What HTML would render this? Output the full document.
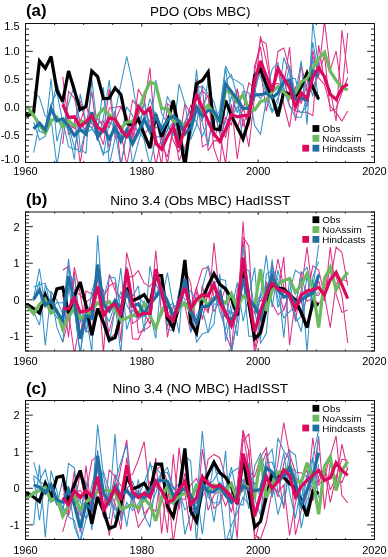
<!DOCTYPE html>
<html><head><meta charset="utf-8"><style>html,body{margin:0;padding:0;background:#fff;}svg{display:block;}text{-webkit-font-smoothing:antialiased;}</style></head>
<body><svg width="388" height="557" viewBox="0 0 388 557" font-family='"Liberation Sans", sans-serif' fill="#000">
<rect width="388" height="557" fill="#fff"/>
<clipPath id="clipa"><rect x="25.50" y="23.50" width="349.00" height="139.00"/></clipPath>
<g clip-path="url(#clipa)">
<polyline points="62.73,76.66 68.54,124.11 74.36,128.41 80.18,119.97 85.99,132.17 91.81,119.11 97.63,129.00 103.44,144.64 109.26,107.88 115.08,107.24 120.89,106.43 126.71,115.82 132.53,137.06 138.34,114.67 144.16,134.92 149.98,126.61 155.79,165.50 161.61,136.22 167.43,164.34 173.24,126.48 179.06,135.41 184.88,135.73 190.69,119.84 196.51,79.36 202.33,146.95 208.14,143.30 213.96,109.42 219.78,133.18 225.59,163.98 231.41,104.29 237.23,159.01 243.04,117.53 248.86,146.95 254.68,95.84 260.49,36.19 266.31,60.94 272.13,90.69 277.94,66.78 283.76,104.68 289.58,127.25 295.39,86.48 301.21,103.71 307.03,83.83 312.84,55.91 318.66,73.76 324.48,21.00 330.29,69.94 336.11,51.03 341.93,92.36 347.74,33.00" stroke="#de2f84" stroke-width="1.05" fill="none" stroke-linejoin="miter" stroke-miterlimit="3"/>
<polyline points="62.73,94.65 68.54,134.87 74.36,122.70 80.18,100.81 85.99,123.47 91.81,127.80 97.63,118.34 103.44,125.81 109.26,127.39 115.08,110.78 120.89,165.50 126.71,133.74 132.53,100.24 138.34,107.57 144.16,114.86 149.98,109.54 155.79,115.86 161.61,145.52 167.43,157.00 173.24,127.97 179.06,160.68 184.88,146.61 190.69,134.05 196.51,86.64 202.33,87.00 208.14,150.74 213.96,140.63 219.78,141.17 225.59,117.66 231.41,124.92 237.23,89.82 243.04,111.10 248.86,82.84 254.68,88.44 260.49,68.88 266.31,111.06 272.13,83.98 277.94,83.47 283.76,85.90 289.58,46.96 295.39,120.80 301.21,91.60 307.03,106.00 312.84,50.42 318.66,77.81 324.48,84.59 330.29,106.34 336.11,112.65 341.93,121.00 347.74,111.00" stroke="#de2f84" stroke-width="1.05" fill="none" stroke-linejoin="miter" stroke-miterlimit="3"/>
<polyline points="62.73,102.39 68.54,119.11 74.36,118.00 80.18,163.24 85.99,126.64 91.81,91.61 97.63,138.06 103.44,132.28 109.26,89.08 115.08,137.94 120.89,131.24 126.71,165.50 132.53,133.07 138.34,89.07 144.16,100.04 149.98,128.96 155.79,134.51 161.61,165.50 167.43,103.53 173.24,108.94 179.06,142.43 184.88,103.47 190.69,114.09 196.51,98.49 202.33,90.52 208.14,96.40 213.96,148.21 219.78,165.50 225.59,99.60 231.41,115.89 237.23,88.49 243.04,126.38 248.86,107.59 254.68,71.39 260.49,40.00 266.31,43.72 272.13,94.35 277.94,51.43 283.76,47.96 289.58,69.44 295.39,110.97 301.21,64.07 307.03,91.94 312.84,85.94 318.66,75.26 324.48,54.90 330.29,110.94 336.11,108.93 341.93,92.60 347.74,77.54" stroke="#de2f84" stroke-width="1.05" fill="none" stroke-linejoin="miter" stroke-miterlimit="3"/>
<polyline points="62.73,143.90 68.54,91.51 74.36,98.09 80.18,121.98 85.99,104.92 91.81,124.28 97.63,123.80 103.44,121.27 109.26,147.65 115.08,120.84 120.89,106.99 126.71,119.29 132.53,141.63 138.34,115.10 144.16,104.58 149.98,67.69 155.79,144.00 161.61,143.65 167.43,121.54 173.24,140.60 179.06,152.28 184.88,124.58 190.69,105.21 196.51,112.70 202.33,105.54 208.14,95.16 213.96,136.95 219.78,125.70 225.59,137.16 231.41,112.91 237.23,129.88 243.04,107.79 248.86,125.42 254.68,65.54 260.49,46.63 266.31,88.27 272.13,95.38 277.94,72.32 283.76,75.46 289.58,106.35 295.39,110.95 301.21,112.22 307.03,112.23 312.84,115.72 318.66,45.17 324.48,81.62 330.29,90.37 336.11,121.00 341.93,30.02 347.74,73.80" stroke="#de2f84" stroke-width="1.05" fill="none" stroke-linejoin="miter" stroke-miterlimit="3"/>
<polyline points="33.64,112.42 39.46,131.26 45.28,133.74 51.09,104.13 56.91,92.57 62.73,121.88 68.54,130.14 74.36,159.48 80.18,93.98 85.99,122.21 91.81,127.73 97.63,137.26 103.44,153.21 109.26,150.52 115.08,112.68 120.89,84.00 126.71,56.40 132.53,83.00 138.34,121.51 144.16,111.21 149.98,122.03 155.79,128.06 161.61,125.24 167.43,96.81 173.24,106.97 179.06,123.20 184.88,158.64 190.69,125.51 196.51,69.59 202.33,121.10 208.14,78.74 213.96,112.78 219.78,117.24 225.59,81.06 231.41,74.69 237.23,96.85 243.04,142.22 248.86,115.41 254.68,92.07 260.49,69.26 266.31,89.93 272.13,110.76 277.94,97.95 283.76,83.81 289.58,77.76 295.39,78.62 301.21,101.18 307.03,74.04 312.84,96.52 318.66,61.42" stroke="#3592c8" stroke-width="1.05" fill="none" stroke-linejoin="miter" stroke-miterlimit="3"/>
<polyline points="33.64,152.54 39.46,123.38 45.28,132.85 51.09,78.60 56.91,141.46 62.73,120.66 68.54,146.63 74.36,149.53 80.18,122.48 85.99,132.98 91.81,129.02 97.63,137.13 103.44,155.48 109.26,121.97 115.08,126.46 120.89,135.49 126.71,116.61 132.53,164.65 138.34,141.82 144.16,122.55 149.98,98.72 155.79,116.68 161.61,144.88 167.43,129.85 173.24,121.75 179.06,130.78 184.88,151.93 190.69,135.78 196.51,111.02 202.33,122.57 208.14,145.80 213.96,109.50 219.78,133.62 225.59,122.17 231.41,96.18 237.23,112.75 243.04,91.26 248.86,92.58 254.68,125.48 260.49,134.34 266.31,99.70 272.13,112.65 277.94,102.57 283.76,57.47 289.58,73.24 295.39,107.60 301.21,112.78 307.03,105.99 312.84,58.46 318.66,100.48" stroke="#3592c8" stroke-width="1.05" fill="none" stroke-linejoin="miter" stroke-miterlimit="3"/>
<polyline points="33.64,122.15 39.46,139.98 45.28,136.20 51.09,108.77 56.91,82.88 62.73,104.23 68.54,125.07 74.36,147.51 80.18,152.03 85.99,128.27 91.81,112.94 97.63,140.92 103.44,117.69 109.26,80.13 115.08,131.75 120.89,165.50 126.71,131.76 132.53,141.01 138.34,129.33 144.16,139.77 149.98,165.50 155.79,137.97 161.61,134.86 167.43,130.82 173.24,99.52 179.06,147.75 184.88,121.23 190.69,111.14 196.51,122.31 202.33,136.28 208.14,122.29 213.96,122.71 219.78,109.93 225.59,66.04 231.41,78.22 237.23,81.15 243.04,85.22 248.86,109.39 254.68,90.92 260.49,98.78 266.31,88.99 272.13,99.33 277.94,108.90 283.76,94.05 289.58,65.56 295.39,94.86 301.21,60.71 307.03,124.77 312.84,22.00 318.66,68.27" stroke="#3592c8" stroke-width="1.05" fill="none" stroke-linejoin="miter" stroke-miterlimit="3"/>
<polyline points="33.64,92.00 39.46,97.38 45.28,116.41 51.09,119.24 56.91,165.50 62.73,128.43 68.54,103.76 74.36,85.08 80.18,149.11 85.99,153.34 91.81,79.11 97.63,131.09 103.44,87.22 109.26,165.50 115.08,138.31 120.89,136.85 126.71,106.99 132.53,115.34 138.34,135.34 144.16,102.47 149.98,132.55 155.79,80.09 161.61,113.42 167.43,123.72 173.24,135.76 179.06,83.86 184.88,103.40 190.69,139.57 196.51,125.09 202.33,85.65 208.14,93.97 213.96,101.81 219.78,123.21 225.59,66.73 231.41,117.31 237.23,106.84 243.04,116.10 248.86,114.62 254.68,71.53 260.49,76.42 266.31,93.38 272.13,69.27 277.94,62.58 283.76,90.67 289.58,105.83 295.39,117.32 301.21,117.33 307.03,96.39 312.84,42.13 318.66,73.84" stroke="#3592c8" stroke-width="1.05" fill="none" stroke-linejoin="miter" stroke-miterlimit="3"/>
<polyline points="22.01,109.00 27.83,115.80 33.64,112.30 39.46,61.00 45.28,68.20 51.09,56.50 56.91,90.50 62.73,101.50 68.54,71.00 74.36,90.00 80.18,109.60 85.99,106.50 91.81,71.00 97.63,76.50 103.44,98.60 109.26,98.30 115.08,88.00 120.89,94.40 126.71,123.00 132.53,125.40 138.34,119.20 144.16,134.20 149.98,148.20 155.79,114.50 161.61,136.60 167.43,122.60 173.24,100.60 179.06,130.00 184.88,166.00 190.69,121.00 196.51,83.80 202.33,80.50 208.14,72.00 213.96,128.80 219.78,129.70 225.59,100.60 231.41,115.70 237.23,127.30 243.04,138.90 248.86,120.30 254.68,76.00 260.49,69.40 266.31,84.50 272.13,96.50 277.94,116.40 283.76,92.00 289.58,94.00 295.39,96.50 301.21,87.00 307.03,73.00 312.84,87.50 318.66,99.20" stroke="#000000" stroke-width="3.20" fill="none" stroke-linejoin="miter" stroke-miterlimit="3"/>
<polyline points="22.01,110.00 27.83,107.50 33.64,115.60 39.46,124.50 45.28,133.00 51.09,121.00 56.91,117.00 62.73,127.00 68.54,120.50 74.36,126.00 80.18,122.30 85.99,120.50 91.81,121.00 97.63,115.70 103.44,108.70 109.26,115.00 115.08,120.30 120.89,128.40 126.71,122.20 132.53,121.50 138.34,112.20 144.16,94.80 149.98,82.00 155.79,84.40 161.61,108.70 167.43,108.50 173.24,121.40 179.06,120.60 184.88,126.00 190.69,121.00 196.51,109.00 202.33,111.30 208.14,105.20 213.96,113.70 219.78,121.40 225.59,90.20 231.41,93.60 237.23,101.80 243.04,94.80 248.86,110.00 254.68,110.00 260.49,101.50 266.31,100.00 272.13,92.00 277.94,86.60 283.76,92.00 289.58,98.00 295.39,93.00 301.21,82.00 307.03,78.50 312.84,68.50 318.66,59.00 324.48,52.30 330.29,71.50 336.11,80.40 341.93,88.00 347.74,89.80" stroke="#6cb960" stroke-width="3.20" fill="none" stroke-linejoin="miter" stroke-miterlimit="3"/>
<polyline points="33.64,128.80 39.46,123.00 45.28,129.80 51.09,108.60 56.91,120.80 62.73,118.80 68.54,126.40 74.36,135.40 80.18,129.40 85.99,134.20 91.81,112.20 97.63,136.60 103.44,128.40 109.26,138.90 115.08,127.30 120.89,141.20 126.71,130.00 132.53,143.80 138.34,132.00 144.16,119.00 149.98,131.40 155.79,115.70 161.61,129.60 167.43,120.30 173.24,116.00 179.06,121.40 184.88,133.80 190.69,128.00 196.51,107.00 202.33,116.40 208.14,110.20 213.96,111.70 219.78,121.00 225.59,84.00 231.41,91.60 237.23,99.40 243.04,108.70 248.86,108.00 254.68,95.00 260.49,94.70 266.31,93.00 272.13,98.00 277.94,93.00 283.76,81.50 289.58,80.60 295.39,99.60 301.21,98.00 307.03,100.30 312.84,71.20 318.66,76.00" stroke="#1f6fa3" stroke-width="3.20" fill="none" stroke-linejoin="miter" stroke-miterlimit="3"/>
<polyline points="62.73,104.40 68.54,117.40 74.36,116.80 80.18,126.50 85.99,121.80 91.81,115.70 97.63,127.30 103.44,131.00 109.26,118.00 115.08,119.20 120.89,129.60 126.71,136.60 132.53,128.00 138.34,106.60 144.16,113.60 149.98,108.20 155.79,143.50 161.61,149.30 167.43,136.60 173.24,126.00 179.06,147.70 184.88,127.60 190.69,118.30 196.51,94.30 202.33,107.50 208.14,121.40 213.96,133.80 219.78,141.50 225.59,129.60 231.41,114.50 237.23,116.80 243.04,115.70 248.86,115.70 254.68,80.30 260.49,61.00 266.31,76.00 272.13,91.10 277.94,68.50 283.76,78.50 289.58,87.50 295.39,107.30 301.21,92.90 307.03,98.50 312.84,77.00 318.66,68.00 324.48,76.60 330.29,94.40 336.11,99.50 341.93,88.00 347.74,84.20" stroke="#dc0a5f" stroke-width="3.20" fill="none" stroke-linejoin="miter" stroke-miterlimit="3"/>
</g>
<path d="M25.50 162.50L32.80 162.50M374.50 162.50L367.20 162.50M25.50 156.94L29.00 156.94M374.50 156.94L371.00 156.94M25.50 151.38L29.00 151.38M374.50 151.38L371.00 151.38M25.50 145.82L29.00 145.82M374.50 145.82L371.00 145.82M25.50 140.26L29.00 140.26M374.50 140.26L371.00 140.26M25.50 134.70L32.80 134.70M374.50 134.70L367.20 134.70M25.50 129.14L29.00 129.14M374.50 129.14L371.00 129.14M25.50 123.58L29.00 123.58M374.50 123.58L371.00 123.58M25.50 118.02L29.00 118.02M374.50 118.02L371.00 118.02M25.50 112.46L29.00 112.46M374.50 112.46L371.00 112.46M25.50 106.90L32.80 106.90M374.50 106.90L367.20 106.90M25.50 101.34L29.00 101.34M374.50 101.34L371.00 101.34M25.50 95.78L29.00 95.78M374.50 95.78L371.00 95.78M25.50 90.22L29.00 90.22M374.50 90.22L371.00 90.22M25.50 84.66L29.00 84.66M374.50 84.66L371.00 84.66M25.50 79.10L32.80 79.10M374.50 79.10L367.20 79.10M25.50 73.54L29.00 73.54M374.50 73.54L371.00 73.54M25.50 67.98L29.00 67.98M374.50 67.98L371.00 67.98M25.50 62.42L29.00 62.42M374.50 62.42L371.00 62.42M25.50 56.86L29.00 56.86M374.50 56.86L371.00 56.86M25.50 51.30L32.80 51.30M374.50 51.30L367.20 51.30M25.50 45.74L29.00 45.74M374.50 45.74L371.00 45.74M25.50 40.18L29.00 40.18M374.50 40.18L371.00 40.18M25.50 34.62L29.00 34.62M374.50 34.62L371.00 34.62M25.50 29.06L29.00 29.06M374.50 29.06L371.00 29.06M25.50 23.50L32.80 23.50M374.50 23.50L367.20 23.50M25.50 162.50L25.50 159.50M25.50 23.50L25.50 26.50M54.58 162.50L54.58 161.00M54.58 23.50L54.58 25.00M83.67 162.50L83.67 161.00M83.67 23.50L83.67 25.00M112.75 162.50L112.75 161.00M112.75 23.50L112.75 25.00M141.83 162.50L141.83 159.50M141.83 23.50L141.83 26.50M170.92 162.50L170.92 161.00M170.92 23.50L170.92 25.00M200.00 162.50L200.00 161.00M200.00 23.50L200.00 25.00M229.08 162.50L229.08 161.00M229.08 23.50L229.08 25.00M258.17 162.50L258.17 159.50M258.17 23.50L258.17 26.50M287.25 162.50L287.25 161.00M287.25 23.50L287.25 25.00M316.33 162.50L316.33 161.00M316.33 23.50L316.33 25.00M345.42 162.50L345.42 161.00M345.42 23.50L345.42 25.00M374.50 162.50L374.50 159.50M374.50 23.50L374.50 26.50" stroke="#222" stroke-width="1" fill="none"/>
<rect x="25.50" y="23.50" width="349.00" height="139.00" stroke="#111" stroke-width="1" fill="none"/>
<clipPath id="clipb"><rect x="25.50" y="212.00" width="349.00" height="139.00"/></clipPath>
<g clip-path="url(#clipb)">
<polyline points="62.73,327.67 68.54,312.29 74.36,354.00 80.18,321.34 85.99,319.31 91.81,311.16 97.63,291.11 103.44,297.48 109.26,285.85 115.08,282.63 120.89,341.73 126.71,252.63 132.53,277.05 138.34,270.70 144.16,283.11 149.98,286.62 155.79,277.55 161.61,274.56 167.43,337.28 173.24,306.30 179.06,308.45 184.88,288.63 190.69,311.19 196.51,286.94 202.33,319.70 208.14,291.91 213.96,311.38 219.78,300.40 225.59,315.84 231.41,293.65 237.23,316.03 243.04,241.00 248.86,298.03 254.68,354.00 260.49,328.40 266.31,284.96 272.13,302.72 277.94,314.67 283.76,309.87 289.58,291.05 295.39,308.90 301.21,301.16 307.03,327.25 312.84,299.72 318.66,280.96 324.48,300.98 330.29,247.00 336.11,294.34 341.93,312.37 347.74,310.07" stroke="#de2f84" stroke-width="1.05" fill="none" stroke-linejoin="miter" stroke-miterlimit="3"/>
<polyline points="62.73,294.12 68.54,337.24 74.36,271.84 80.18,338.58 85.99,291.01 91.81,293.92 97.63,290.33 103.44,289.75 109.26,338.79 115.08,333.96 120.89,307.13 126.71,276.97 132.53,276.58 138.34,332.74 144.16,330.08 149.98,326.40 155.79,271.02 161.61,287.61 167.43,325.90 173.24,318.51 179.06,293.60 184.88,268.60 190.69,283.13 196.51,330.62 202.33,285.28 208.14,312.86 213.96,242.54 219.78,298.52 225.59,316.63 231.41,311.34 237.23,316.47 243.04,237.14 248.86,246.00 254.68,349.20 260.49,318.85 266.31,282.18 272.13,291.21 277.94,258.98 283.76,287.02 289.58,299.26 295.39,319.80 301.21,290.48 307.03,247.00 312.84,295.43 318.66,295.34 324.48,285.24 330.29,281.26 336.11,247.00 341.93,252.58 347.74,285.31" stroke="#de2f84" stroke-width="1.05" fill="none" stroke-linejoin="miter" stroke-miterlimit="3"/>
<polyline points="62.73,342.36 68.54,318.67 74.36,266.99 80.18,293.28 85.99,331.37 91.81,331.56 97.63,286.72 103.44,322.02 109.26,331.06 115.08,308.94 120.89,315.29 126.71,266.95 132.53,323.68 138.34,319.62 144.16,313.45 149.98,323.74 155.79,277.72 161.61,291.82 167.43,299.31 173.24,330.06 179.06,293.11 184.88,305.87 190.69,332.20 196.51,291.78 202.33,304.76 208.14,312.31 213.96,286.00 219.78,302.74 225.59,333.66 231.41,349.20 237.23,290.75 243.04,269.99 248.86,308.25 254.68,301.05 260.49,296.48 266.31,311.01 272.13,274.94 277.94,289.59 283.76,310.35 289.58,292.20 295.39,307.36 301.21,271.33 307.03,301.29 312.84,298.62 318.66,303.33 324.48,297.98 330.29,266.55 336.11,276.58 341.93,295.53 347.74,343.00" stroke="#de2f84" stroke-width="1.05" fill="none" stroke-linejoin="miter" stroke-miterlimit="3"/>
<polyline points="62.73,270.24 68.54,266.20 74.36,290.45 80.18,295.20 85.99,302.31 91.81,297.76 97.63,278.24 103.44,353.15 109.26,274.30 115.08,290.48 120.89,298.25 126.71,280.25 132.53,338.68 138.34,339.34 144.16,326.56 149.98,316.43 155.79,250.51 161.61,315.61 167.43,299.91 173.24,325.92 179.06,311.65 184.88,288.10 190.69,307.88 196.51,288.25 202.33,269.06 208.14,266.92 213.96,297.28 219.78,305.13 225.59,287.07 231.41,349.81 237.23,320.75 243.04,221.51 248.86,304.91 254.68,313.67 260.49,300.28 266.31,300.65 272.13,263.53 277.94,292.76 283.76,256.76 289.58,345.00 295.39,298.74 301.21,316.63 307.03,296.45 312.84,265.83 318.66,269.97 324.48,295.40 330.29,327.70 336.11,283.77 341.93,279.11 347.74,281.53" stroke="#de2f84" stroke-width="1.05" fill="none" stroke-linejoin="miter" stroke-miterlimit="3"/>
<polyline points="33.64,311.74 39.46,325.13 45.28,285.49 51.09,294.13 56.91,327.39 62.73,342.25 68.54,290.20 74.36,275.79 80.18,322.24 85.99,306.89 91.81,320.41 97.63,274.80 103.44,305.00 109.26,343.28 115.08,309.25 120.89,291.89 126.71,304.78 132.53,315.49 138.34,317.97 144.16,300.61 149.98,318.91 155.79,283.54 161.61,296.90 167.43,298.20 173.24,322.09 179.06,290.75 184.88,299.62 190.69,300.54 196.51,342.06 202.33,333.87 208.14,331.80 213.96,324.09 219.78,273.70 225.59,341.38 231.41,310.64 237.23,335.99 243.04,277.08 248.86,336.18 254.68,336.24 260.49,292.90 266.31,306.49 272.13,259.53 277.94,307.61 283.76,291.96 289.58,291.51 295.39,270.05 301.21,274.54 307.03,267.32 312.84,288.56 318.66,245.00" stroke="#3592c8" stroke-width="1.05" fill="none" stroke-linejoin="miter" stroke-miterlimit="3"/>
<polyline points="33.64,300.98 39.46,281.21 45.28,345.45 51.09,291.52 56.91,300.26 62.73,314.17 68.54,258.74 74.36,308.40 80.18,354.00 85.99,306.69 91.81,308.30 97.63,276.07 103.44,298.10 109.26,276.91 115.08,277.97 120.89,308.65 126.71,267.75 132.53,296.87 138.34,285.80 144.16,332.22 149.98,266.30 155.79,294.87 161.61,282.75 167.43,306.56 173.24,303.05 179.06,333.50 184.88,260.87 190.69,332.57 196.51,314.43 202.33,308.88 208.14,333.10 213.96,303.72 219.78,305.36 225.59,310.95 231.41,311.20 237.23,282.35 243.04,321.26 248.86,295.88 254.68,267.35 260.49,343.60 266.31,333.35 272.13,267.61 277.94,279.66 283.76,337.60 289.58,278.04 295.39,321.26 301.21,316.80 307.03,275.79 312.84,307.49 318.66,273.24" stroke="#3592c8" stroke-width="1.05" fill="none" stroke-linejoin="miter" stroke-miterlimit="3"/>
<polyline points="33.64,297.77 39.46,268.72 45.28,306.77 51.09,307.41 56.91,317.79 62.73,321.38 68.54,268.09 74.36,308.37 80.18,354.00 85.99,316.26 91.81,351.35 97.63,235.36 103.44,311.80 109.26,321.48 115.08,303.90 120.89,354.00 126.71,267.38 132.53,302.81 138.34,295.92 144.16,304.00 149.98,317.98 155.79,271.21 161.61,299.76 167.43,272.69 173.24,306.37 179.06,304.17 184.88,290.10 190.69,291.08 196.51,300.12 202.33,294.86 208.14,294.85 213.96,283.54 219.78,279.02 225.59,280.50 231.41,354.00 237.23,318.43 243.04,246.84 248.86,295.03 254.68,309.73 260.49,296.49 266.31,255.36 272.13,307.44 277.94,270.03 283.76,294.57 289.58,298.79 295.39,314.78 301.21,331.77 307.03,289.36 312.84,299.05 318.66,291.46" stroke="#3592c8" stroke-width="1.05" fill="none" stroke-linejoin="miter" stroke-miterlimit="3"/>
<polyline points="33.64,287.11 39.46,284.94 45.28,283.09 51.09,308.94 56.91,302.56 62.73,303.00 68.54,287.77 74.36,314.23 80.18,313.07 85.99,332.56 91.81,291.54 97.63,272.17 103.44,301.10 109.26,302.34 115.08,310.88 120.89,267.77 126.71,329.69 132.53,310.03 138.34,316.30 144.16,316.37 149.98,312.81 155.79,338.38 161.61,276.18 167.43,329.35 173.24,330.88 179.06,296.78 184.88,263.41 190.69,319.82 196.51,333.79 202.33,287.58 208.14,265.44 213.96,286.25 219.78,311.52 225.59,329.57 231.41,303.19 237.23,297.62 243.04,268.82 248.86,270.51 254.68,311.88 260.49,338.61 266.31,274.40 272.13,270.22 277.94,298.71 283.76,317.92 289.58,311.66 295.39,305.92 301.21,276.89 307.03,351.53 312.84,276.91 318.66,261.41" stroke="#3592c8" stroke-width="1.05" fill="none" stroke-linejoin="miter" stroke-miterlimit="3"/>
<polyline points="22.01,303.70 27.83,304.80 33.64,308.50 39.46,313.00 45.28,294.90 51.09,309.10 56.91,288.90 62.73,287.50 68.54,313.10 74.36,295.90 80.18,282.00 85.99,305.20 91.81,335.30 97.63,308.60 103.44,322.60 109.26,340.00 115.08,337.60 120.89,315.60 126.71,287.80 132.53,300.50 138.34,298.20 144.16,294.70 149.98,304.00 155.79,275.70 161.61,275.70 167.43,317.90 173.24,328.40 179.06,304.00 184.88,259.90 190.69,322.60 196.51,333.00 202.33,299.40 208.14,285.40 213.96,273.80 219.78,284.30 225.59,288.90 231.41,298.20 237.23,315.60 243.04,269.20 248.86,304.00 254.68,338.80 260.49,333.00 266.31,308.60 272.13,285.40 277.94,287.80 283.76,288.90 289.58,294.90 295.39,300.00 301.21,312.50 307.03,327.60 312.84,302.50 318.66,305.00" stroke="#000000" stroke-width="3.20" fill="none" stroke-linejoin="miter" stroke-miterlimit="3"/>
<polyline points="22.01,306.40 27.83,307.00 33.64,313.80 39.46,304.40 45.28,299.00 51.09,313.10 56.91,310.40 62.73,329.30 68.54,317.20 74.36,307.50 80.18,317.90 85.99,315.60 91.81,309.80 97.63,302.80 103.44,307.00 109.26,301.70 115.08,309.80 120.89,320.20 126.71,317.90 132.53,315.60 138.34,313.30 144.16,304.00 149.98,315.60 155.79,328.40 161.61,311.00 167.43,301.70 173.24,315.60 179.06,308.60 184.88,302.80 190.69,312.00 196.51,300.50 202.33,298.00 208.14,305.20 213.96,298.00 219.78,299.40 225.59,303.00 231.41,293.60 237.23,308.60 243.04,295.90 248.86,300.50 254.68,306.30 260.49,269.20 266.31,311.00 272.13,290.00 277.94,284.30 283.76,280.80 289.58,278.60 295.39,292.40 301.21,284.90 307.03,273.60 312.84,288.60 318.66,327.60 324.48,278.60 330.29,267.30 336.11,289.90 341.93,279.80 347.74,272.30" stroke="#6cb960" stroke-width="3.20" fill="none" stroke-linejoin="miter" stroke-miterlimit="3"/>
<polyline points="33.64,299.40 39.46,290.00 45.28,305.20 51.09,300.50 56.91,312.00 62.73,320.20 68.54,276.20 74.36,301.70 80.18,338.80 85.99,315.60 91.81,317.90 97.63,264.60 103.44,304.00 109.26,311.00 115.08,300.50 120.89,308.60 126.71,292.40 132.53,306.30 138.34,304.00 144.16,313.30 149.98,304.00 155.79,297.00 161.61,288.90 167.43,301.70 173.24,315.60 179.06,306.30 184.88,278.50 190.69,311.00 196.51,322.60 202.33,306.30 208.14,306.30 213.96,299.40 219.78,292.40 225.59,315.60 231.41,320.20 237.23,308.60 243.04,278.50 248.86,299.40 254.68,306.30 260.49,317.90 266.31,292.40 272.13,276.20 277.94,289.00 283.76,297.00 289.58,295.00 295.39,303.00 301.21,300.00 307.03,296.00 312.84,293.00 318.66,275.00" stroke="#1f6fa3" stroke-width="3.20" fill="none" stroke-linejoin="miter" stroke-miterlimit="3"/>
<polyline points="62.73,308.60 68.54,308.60 74.36,298.20 80.18,312.10 85.99,311.00 91.81,308.60 97.63,286.60 103.44,315.60 109.26,307.50 115.08,304.00 120.89,315.60 126.71,269.20 132.53,304.00 138.34,315.60 144.16,313.30 149.98,313.30 155.79,269.20 161.61,292.40 167.43,315.60 173.24,320.20 179.06,301.70 184.88,287.80 190.69,308.60 196.51,299.40 202.33,294.70 208.14,296.00 213.96,284.30 219.78,301.70 225.59,313.30 231.41,326.00 237.23,311.00 243.04,257.60 248.86,297.00 254.68,331.80 260.49,311.00 266.31,294.70 272.13,283.10 277.94,289.00 283.76,291.00 289.58,294.90 295.39,308.70 301.21,294.90 307.03,291.10 312.84,289.90 318.66,287.40 324.48,294.90 330.29,279.80 336.11,272.30 341.93,284.90 347.74,298.70" stroke="#dc0a5f" stroke-width="3.20" fill="none" stroke-linejoin="miter" stroke-miterlimit="3"/>
</g>
<path d="M25.50 351.00L29.00 351.00M374.50 351.00L371.00 351.00M25.50 347.34L29.00 347.34M374.50 347.34L371.00 347.34M25.50 343.68L29.00 343.68M374.50 343.68L371.00 343.68M25.50 340.03L29.00 340.03M374.50 340.03L371.00 340.03M25.50 336.37L32.80 336.37M374.50 336.37L367.20 336.37M25.50 332.71L29.00 332.71M374.50 332.71L371.00 332.71M25.50 329.05L29.00 329.05M374.50 329.05L371.00 329.05M25.50 325.39L29.00 325.39M374.50 325.39L371.00 325.39M25.50 321.74L29.00 321.74M374.50 321.74L371.00 321.74M25.50 318.08L29.00 318.08M374.50 318.08L371.00 318.08M25.50 314.42L29.00 314.42M374.50 314.42L371.00 314.42M25.50 310.76L29.00 310.76M374.50 310.76L371.00 310.76M25.50 307.11L29.00 307.11M374.50 307.11L371.00 307.11M25.50 303.45L29.00 303.45M374.50 303.45L371.00 303.45M25.50 299.79L32.80 299.79M374.50 299.79L367.20 299.79M25.50 296.13L29.00 296.13M374.50 296.13L371.00 296.13M25.50 292.47L29.00 292.47M374.50 292.47L371.00 292.47M25.50 288.82L29.00 288.82M374.50 288.82L371.00 288.82M25.50 285.16L29.00 285.16M374.50 285.16L371.00 285.16M25.50 281.50L29.00 281.50M374.50 281.50L371.00 281.50M25.50 277.84L29.00 277.84M374.50 277.84L371.00 277.84M25.50 274.18L29.00 274.18M374.50 274.18L371.00 274.18M25.50 270.53L29.00 270.53M374.50 270.53L371.00 270.53M25.50 266.87L29.00 266.87M374.50 266.87L371.00 266.87M25.50 263.21L32.80 263.21M374.50 263.21L367.20 263.21M25.50 259.55L29.00 259.55M374.50 259.55L371.00 259.55M25.50 255.89L29.00 255.89M374.50 255.89L371.00 255.89M25.50 252.24L29.00 252.24M374.50 252.24L371.00 252.24M25.50 248.58L29.00 248.58M374.50 248.58L371.00 248.58M25.50 244.92L29.00 244.92M374.50 244.92L371.00 244.92M25.50 241.26L29.00 241.26M374.50 241.26L371.00 241.26M25.50 237.61L29.00 237.61M374.50 237.61L371.00 237.61M25.50 233.95L29.00 233.95M374.50 233.95L371.00 233.95M25.50 230.29L29.00 230.29M374.50 230.29L371.00 230.29M25.50 226.63L32.80 226.63M374.50 226.63L367.20 226.63M25.50 222.97L29.00 222.97M374.50 222.97L371.00 222.97M25.50 219.32L29.00 219.32M374.50 219.32L371.00 219.32M25.50 215.66L29.00 215.66M374.50 215.66L371.00 215.66M25.50 212.00L29.00 212.00M374.50 212.00L371.00 212.00M25.50 351.00L25.50 348.00M25.50 212.00L25.50 215.00M54.58 351.00L54.58 349.50M54.58 212.00L54.58 213.50M83.67 351.00L83.67 349.50M83.67 212.00L83.67 213.50M112.75 351.00L112.75 349.50M112.75 212.00L112.75 213.50M141.83 351.00L141.83 348.00M141.83 212.00L141.83 215.00M170.92 351.00L170.92 349.50M170.92 212.00L170.92 213.50M200.00 351.00L200.00 349.50M200.00 212.00L200.00 213.50M229.08 351.00L229.08 349.50M229.08 212.00L229.08 213.50M258.17 351.00L258.17 348.00M258.17 212.00L258.17 215.00M287.25 351.00L287.25 349.50M287.25 212.00L287.25 213.50M316.33 351.00L316.33 349.50M316.33 212.00L316.33 213.50M345.42 351.00L345.42 349.50M345.42 212.00L345.42 213.50M374.50 351.00L374.50 348.00M374.50 212.00L374.50 215.00" stroke="#222" stroke-width="1" fill="none"/>
<rect x="25.50" y="212.00" width="349.00" height="139.00" stroke="#111" stroke-width="1" fill="none"/>
<clipPath id="clipc"><rect x="25.50" y="400.50" width="349.00" height="139.00"/></clipPath>
<g clip-path="url(#clipc)">
<polyline points="62.73,531.92 68.54,511.16 74.36,471.06 80.18,532.39 85.99,465.55 91.81,512.82 97.63,496.30 103.44,512.24 109.26,503.70 115.08,474.39 120.89,517.69 126.71,457.58 132.53,495.11 138.34,513.15 144.16,498.91 149.98,481.61 155.79,486.42 161.61,492.12 167.43,532.82 173.24,454.19 179.06,509.91 184.88,472.96 190.69,497.83 196.51,499.12 202.33,488.23 208.14,479.70 213.96,490.83 219.78,487.62 225.59,491.76 231.41,512.39 237.23,485.17 243.04,430.00 248.86,451.32 254.68,534.91 260.49,538.96 266.31,522.51 272.13,490.99 277.94,463.00 283.76,422.60 289.58,454.68 295.39,471.95 301.21,472.93 307.03,477.07 312.84,482.76 318.66,436.33 324.48,509.51 330.29,462.88 336.11,482.65 341.93,444.07 347.74,470.36" stroke="#de2f84" stroke-width="1.05" fill="none" stroke-linejoin="miter" stroke-miterlimit="3"/>
<polyline points="62.73,484.10 68.54,515.72 74.36,494.19 80.18,490.20 85.99,498.44 91.81,505.80 97.63,466.86 103.44,517.55 109.26,490.43 115.08,503.59 120.89,529.56 126.71,476.16 132.53,474.44 138.34,460.02 144.16,441.44 149.98,496.54 155.79,469.96 161.61,465.66 167.43,481.63 173.24,486.41 179.06,498.56 184.88,499.50 190.69,485.09 196.51,478.46 202.33,493.27 208.14,459.03 213.96,454.44 219.78,457.71 225.59,478.05 231.41,500.48 237.23,493.47 243.04,440.65 248.86,434.00 254.68,495.40 260.49,467.53 266.31,452.44 272.13,496.99 277.94,473.07 283.76,508.58 289.58,462.08 295.39,476.89 301.21,484.16 307.03,479.53 312.84,480.27 318.66,485.12 324.48,476.93 330.29,456.02 336.11,436.00 341.93,495.49 347.74,503.05" stroke="#de2f84" stroke-width="1.05" fill="none" stroke-linejoin="miter" stroke-miterlimit="3"/>
<polyline points="62.73,495.05 68.54,490.35 74.36,505.94 80.18,473.42 85.99,504.89 91.81,506.43 97.63,488.39 103.44,492.93 109.26,535.73 115.08,498.83 120.89,466.85 126.71,439.84 132.53,497.96 138.34,490.23 144.16,513.67 149.98,506.82 155.79,511.45 161.61,471.27 167.43,511.82 173.24,515.38 179.06,447.69 184.88,492.63 190.69,530.87 196.51,494.90 202.33,476.51 208.14,510.28 213.96,494.97 219.78,490.70 225.59,505.83 231.41,492.20 237.23,538.75 243.04,431.49 248.86,470.82 254.68,476.65 260.49,457.34 266.31,447.70 272.13,484.68 277.94,492.58 283.76,484.93 289.58,535.44 295.39,503.27 301.21,479.05 307.03,470.12 312.84,500.78 318.66,476.74 324.48,469.09 330.29,502.58 336.11,475.65 341.93,482.51 347.74,467.87" stroke="#de2f84" stroke-width="1.05" fill="none" stroke-linejoin="miter" stroke-miterlimit="3"/>
<polyline points="62.73,479.50 68.54,501.20 74.36,491.55 80.18,494.57 85.99,493.87 91.81,460.89 97.63,455.50 103.44,514.27 109.26,470.01 115.08,476.65 120.89,485.76 126.71,487.07 132.53,499.87 138.34,527.18 144.16,518.00 149.98,505.62 155.79,457.79 161.61,533.69 167.43,482.87 173.24,542.50 179.06,501.94 184.88,460.52 190.69,504.64 196.51,518.10 202.33,449.05 208.14,485.89 213.96,508.58 219.78,503.50 225.59,487.10 231.41,485.51 237.23,491.75 243.04,491.56 248.86,449.20 254.68,542.50 260.49,517.46 266.31,484.40 272.13,480.80 277.94,496.98 283.76,463.10 289.58,449.32 295.39,534.83 301.21,510.59 307.03,494.89 312.84,437.69 318.66,483.22 324.48,466.07 330.29,490.08 336.11,476.63 341.93,459.33 347.74,460.23" stroke="#de2f84" stroke-width="1.05" fill="none" stroke-linejoin="miter" stroke-miterlimit="3"/>
<polyline points="33.64,475.38 39.46,480.87 45.28,469.53 51.09,493.92 56.91,503.51 62.73,508.97 68.54,488.57 74.36,526.61 80.18,542.50 85.99,519.74 91.81,505.45 97.63,424.89 103.44,475.74 109.26,506.00 115.08,434.06 120.89,521.07 126.71,502.41 132.53,510.62 138.34,503.56 144.16,492.28 149.98,508.09 155.79,493.14 161.61,472.15 167.43,501.79 173.24,503.87 179.06,503.98 184.88,456.18 190.69,461.05 196.51,542.50 202.33,473.39 208.14,497.23 213.96,503.04 219.78,502.46 225.59,450.56 231.41,542.50 237.23,503.27 243.04,505.27 248.86,462.57 254.68,498.92 260.49,515.09 266.31,462.94 272.13,462.06 277.94,480.48 283.76,452.80 289.58,492.58 295.39,518.31 301.21,485.40 307.03,511.99 312.84,456.99 318.66,430.00" stroke="#3592c8" stroke-width="1.05" fill="none" stroke-linejoin="miter" stroke-miterlimit="3"/>
<polyline points="33.64,525.30 39.46,464.85 45.28,537.41 51.09,470.49 56.91,491.32 62.73,513.81 68.54,463.56 74.36,467.87 80.18,516.12 85.99,480.46 91.81,530.21 97.63,484.02 103.44,471.67 109.26,490.48 115.08,518.92 120.89,493.96 126.71,526.64 132.53,490.21 138.34,497.06 144.16,500.11 149.98,461.89 155.79,485.19 161.61,471.88 167.43,472.60 173.24,489.23 179.06,484.04 184.88,534.51 190.69,513.98 196.51,516.06 202.33,496.28 208.14,488.23 213.96,522.08 219.78,482.68 225.59,488.94 231.41,467.03 237.23,496.63 243.04,478.79 248.86,508.99 254.68,465.97 260.49,453.58 266.31,475.74 272.13,479.69 277.94,514.66 283.76,493.49 289.58,450.75 295.39,455.02 301.21,499.02 307.03,474.53 312.84,489.90 318.66,436.00" stroke="#3592c8" stroke-width="1.05" fill="none" stroke-linejoin="miter" stroke-miterlimit="3"/>
<polyline points="33.64,462.18 39.46,482.81 45.28,483.55 51.09,485.39 56.91,499.41 62.73,506.62 68.54,516.74 74.36,520.67 80.18,542.50 85.99,499.34 91.81,516.05 97.63,450.02 103.44,508.50 109.26,494.08 115.08,510.01 120.89,504.01 126.71,489.01 132.53,481.66 138.34,496.67 144.16,482.93 149.98,465.41 155.79,468.12 161.61,474.53 167.43,467.52 173.24,487.85 179.06,490.94 184.88,509.82 190.69,503.93 196.51,503.22 202.33,431.00 208.14,495.66 213.96,462.64 219.78,489.42 225.59,542.50 231.41,525.32 237.23,512.58 243.04,496.96 248.86,504.54 254.68,482.29 260.49,497.52 266.31,457.90 272.13,449.16 277.94,492.55 283.76,505.23 289.58,468.44 295.39,470.04 301.21,528.17 307.03,498.59 312.84,497.51 318.66,464.30" stroke="#3592c8" stroke-width="1.05" fill="none" stroke-linejoin="miter" stroke-miterlimit="3"/>
<polyline points="33.64,476.67 39.46,520.29 45.28,481.53 51.09,489.73 56.91,505.62 62.73,479.74 68.54,489.24 74.36,503.28 80.18,500.66 85.99,518.89 91.81,485.27 97.63,464.59 103.44,516.11 109.26,518.58 115.08,481.18 120.89,462.26 126.71,444.68 132.53,508.09 138.34,479.36 144.16,515.25 149.98,527.35 155.79,479.17 161.61,502.41 167.43,483.71 173.24,500.36 179.06,488.41 184.88,452.94 190.69,502.34 196.51,489.17 202.33,534.23 208.14,486.26 213.96,479.62 219.78,469.62 225.59,493.17 231.41,472.41 237.23,468.82 243.04,463.15 248.86,482.00 254.68,515.56 260.49,491.90 266.31,473.35 272.13,497.58 277.94,437.92 283.76,450.89 289.58,459.58 295.39,488.28 301.21,509.52 307.03,476.70 312.84,457.10 318.66,497.62" stroke="#3592c8" stroke-width="1.05" fill="none" stroke-linejoin="miter" stroke-miterlimit="3"/>
<polyline points="22.01,492.20 27.83,493.30 33.64,497.00 39.46,501.50 45.28,483.40 51.09,497.60 56.91,477.40 62.73,476.00 68.54,501.60 74.36,484.40 80.18,470.50 85.99,493.70 91.81,523.80 97.63,497.10 103.44,511.10 109.26,528.50 115.08,526.10 120.89,504.10 126.71,476.30 132.53,489.00 138.34,486.70 144.16,483.20 149.98,492.50 155.79,464.20 161.61,464.20 167.43,506.40 173.24,516.90 179.06,492.50 184.88,448.40 190.69,511.10 196.51,521.50 202.33,487.90 208.14,473.90 213.96,462.30 219.78,472.80 225.59,477.40 231.41,486.70 237.23,504.10 243.04,457.70 248.86,492.50 254.68,527.30 260.49,521.50 266.31,497.10 272.13,473.90 277.94,476.30 283.76,477.40 289.58,483.40 295.39,488.50 301.21,501.00 307.03,516.10 312.84,491.00 318.66,493.50" stroke="#000000" stroke-width="3.20" fill="none" stroke-linejoin="miter" stroke-miterlimit="3"/>
<polyline points="22.01,496.48 27.83,497.65 33.64,493.00 39.46,490.68 45.28,487.20 51.09,501.13 56.91,497.65 62.73,516.21 68.54,505.77 74.36,496.48 80.18,509.25 85.99,502.29 91.81,496.48 97.63,491.84 103.44,490.68 109.26,490.68 115.08,491.84 120.89,509.25 126.71,506.93 132.53,504.61 138.34,508.09 144.16,498.81 149.98,504.61 155.79,520.85 161.61,497.65 167.43,486.04 173.24,502.29 179.06,496.48 184.88,493.00 190.69,499.97 196.51,484.88 202.33,484.88 208.14,491.84 213.96,484.88 219.78,490.68 225.59,490.68 231.41,483.72 237.23,499.97 243.04,484.88 248.86,487.20 254.68,496.48 260.49,458.20 266.31,497.65 272.13,483.72 277.94,472.12 283.76,470.96 289.58,466.58 295.39,480.40 301.21,482.91 307.03,462.81 312.84,477.89 318.66,514.32 324.48,466.58 330.29,456.53 336.11,490.45 341.93,470.35 347.74,461.56" stroke="#6cb960" stroke-width="3.20" fill="none" stroke-linejoin="miter" stroke-miterlimit="3"/>
<polyline points="33.64,484.88 39.46,487.20 45.28,493.00 51.09,484.88 56.91,499.97 62.73,502.29 68.54,489.52 74.36,504.61 80.18,527.81 85.99,504.61 91.81,509.25 97.63,455.88 103.44,493.00 109.26,502.29 115.08,486.04 120.89,495.32 126.71,490.68 132.53,497.65 138.34,494.16 144.16,497.65 149.98,490.68 155.79,481.40 161.61,480.24 167.43,481.40 173.24,495.32 179.06,491.84 184.88,488.36 190.69,495.32 196.51,513.89 202.33,483.72 208.14,491.84 213.96,491.84 219.78,486.04 225.59,495.32 231.41,502.29 237.23,495.32 243.04,486.04 248.86,489.52 254.68,490.68 260.49,489.52 266.31,467.48 272.13,472.12 277.94,481.40 283.76,475.60 289.58,467.84 295.39,482.91 301.21,505.53 307.03,490.45 312.84,475.38 318.66,452.76" stroke="#1f6fa3" stroke-width="3.20" fill="none" stroke-linejoin="miter" stroke-miterlimit="3"/>
<polyline points="62.73,497.65 68.54,504.61 74.36,490.68 80.18,497.65 85.99,490.68 91.81,496.48 97.63,476.76 103.44,509.25 109.26,499.97 115.08,488.36 120.89,499.97 126.71,465.16 132.53,491.84 138.34,497.65 144.16,493.00 149.98,497.65 155.79,481.40 161.61,490.68 167.43,502.29 173.24,499.97 179.06,489.52 184.88,481.40 190.69,504.61 196.51,497.65 202.33,476.76 208.14,483.72 213.96,487.20 219.78,484.88 225.59,490.68 231.41,497.65 237.23,502.29 243.04,453.56 248.86,474.44 254.68,516.21 260.49,495.32 266.31,476.76 272.13,488.36 277.94,481.40 283.76,469.80 289.58,475.38 295.39,496.73 301.21,486.68 307.03,480.40 312.84,475.38 318.66,470.35 324.48,480.40 330.29,477.89 336.11,462.81 341.93,470.35 347.74,475.38" stroke="#dc0a5f" stroke-width="3.20" fill="none" stroke-linejoin="miter" stroke-miterlimit="3"/>
</g>
<path d="M25.50 539.50L29.00 539.50M374.50 539.50L371.00 539.50M25.50 535.84L29.00 535.84M374.50 535.84L371.00 535.84M25.50 532.18L29.00 532.18M374.50 532.18L371.00 532.18M25.50 528.53L29.00 528.53M374.50 528.53L371.00 528.53M25.50 524.87L32.80 524.87M374.50 524.87L367.20 524.87M25.50 521.21L29.00 521.21M374.50 521.21L371.00 521.21M25.50 517.55L29.00 517.55M374.50 517.55L371.00 517.55M25.50 513.89L29.00 513.89M374.50 513.89L371.00 513.89M25.50 510.24L29.00 510.24M374.50 510.24L371.00 510.24M25.50 506.58L29.00 506.58M374.50 506.58L371.00 506.58M25.50 502.92L29.00 502.92M374.50 502.92L371.00 502.92M25.50 499.26L29.00 499.26M374.50 499.26L371.00 499.26M25.50 495.61L29.00 495.61M374.50 495.61L371.00 495.61M25.50 491.95L29.00 491.95M374.50 491.95L371.00 491.95M25.50 488.29L32.80 488.29M374.50 488.29L367.20 488.29M25.50 484.63L29.00 484.63M374.50 484.63L371.00 484.63M25.50 480.97L29.00 480.97M374.50 480.97L371.00 480.97M25.50 477.32L29.00 477.32M374.50 477.32L371.00 477.32M25.50 473.66L29.00 473.66M374.50 473.66L371.00 473.66M25.50 470.00L29.00 470.00M374.50 470.00L371.00 470.00M25.50 466.34L29.00 466.34M374.50 466.34L371.00 466.34M25.50 462.68L29.00 462.68M374.50 462.68L371.00 462.68M25.50 459.03L29.00 459.03M374.50 459.03L371.00 459.03M25.50 455.37L29.00 455.37M374.50 455.37L371.00 455.37M25.50 451.71L32.80 451.71M374.50 451.71L367.20 451.71M25.50 448.05L29.00 448.05M374.50 448.05L371.00 448.05M25.50 444.39L29.00 444.39M374.50 444.39L371.00 444.39M25.50 440.74L29.00 440.74M374.50 440.74L371.00 440.74M25.50 437.08L29.00 437.08M374.50 437.08L371.00 437.08M25.50 433.42L29.00 433.42M374.50 433.42L371.00 433.42M25.50 429.76L29.00 429.76M374.50 429.76L371.00 429.76M25.50 426.11L29.00 426.11M374.50 426.11L371.00 426.11M25.50 422.45L29.00 422.45M374.50 422.45L371.00 422.45M25.50 418.79L29.00 418.79M374.50 418.79L371.00 418.79M25.50 415.13L32.80 415.13M374.50 415.13L367.20 415.13M25.50 411.47L29.00 411.47M374.50 411.47L371.00 411.47M25.50 407.82L29.00 407.82M374.50 407.82L371.00 407.82M25.50 404.16L29.00 404.16M374.50 404.16L371.00 404.16M25.50 400.50L29.00 400.50M374.50 400.50L371.00 400.50M25.50 539.50L25.50 536.50M25.50 400.50L25.50 403.50M54.58 539.50L54.58 538.00M54.58 400.50L54.58 402.00M83.67 539.50L83.67 538.00M83.67 400.50L83.67 402.00M112.75 539.50L112.75 538.00M112.75 400.50L112.75 402.00M141.83 539.50L141.83 536.50M141.83 400.50L141.83 403.50M170.92 539.50L170.92 538.00M170.92 400.50L170.92 402.00M200.00 539.50L200.00 538.00M200.00 400.50L200.00 402.00M229.08 539.50L229.08 538.00M229.08 400.50L229.08 402.00M258.17 539.50L258.17 536.50M258.17 400.50L258.17 403.50M287.25 539.50L287.25 538.00M287.25 400.50L287.25 402.00M316.33 539.50L316.33 538.00M316.33 400.50L316.33 402.00M345.42 539.50L345.42 538.00M345.42 400.50L345.42 402.00M374.50 539.50L374.50 536.50M374.50 400.50L374.50 403.50" stroke="#222" stroke-width="1" fill="none"/>
<rect x="25.50" y="400.50" width="349.00" height="139.00" stroke="#111" stroke-width="1" fill="none"/>
<g style="filter:grayscale(1)">
<text x="19.6" y="29.60" text-anchor="end" font-size="11">1.5</text>
<text x="19.6" y="55.25" text-anchor="end" font-size="11">1.0</text>
<text x="19.6" y="83.05" text-anchor="end" font-size="11">0.5</text>
<text x="19.6" y="110.85" text-anchor="end" font-size="11">0.0</text>
<text x="19.6" y="138.65" text-anchor="end" font-size="11">-0.5</text>
<text x="19.6" y="163.10" text-anchor="end" font-size="11">-1.0</text>
<text x="25.50" y="175.20" text-anchor="middle" font-size="11">1960</text>
<text x="141.83" y="175.20" text-anchor="middle" font-size="11">1980</text>
<text x="258.17" y="175.20" text-anchor="middle" font-size="11">2000</text>
<text x="374.50" y="175.20" text-anchor="middle" font-size="11">2020</text>
<text x="200.3" y="15.90" text-anchor="middle" font-size="13.5">PDO (Obs MBC)</text>
<text x="26.0" y="15.50" font-size="16.8" font-weight="bold">(a)</text>
<text x="19.6" y="230.58" text-anchor="end" font-size="11">2</text>
<text x="19.6" y="267.16" text-anchor="end" font-size="11">1</text>
<text x="19.6" y="303.74" text-anchor="end" font-size="11">0</text>
<text x="19.6" y="340.32" text-anchor="end" font-size="11">-1</text>
<text x="25.50" y="365.00" text-anchor="middle" font-size="11">1960</text>
<text x="141.83" y="365.00" text-anchor="middle" font-size="11">1980</text>
<text x="258.17" y="365.00" text-anchor="middle" font-size="11">2000</text>
<text x="374.50" y="365.00" text-anchor="middle" font-size="11">2020</text>
<text x="200.3" y="204.60" text-anchor="middle" font-size="13.5">Nino 3.4 (Obs MBC) HadISST</text>
<text x="26.0" y="205.00" font-size="16.8" font-weight="bold">(b)</text>
<text x="19.6" y="419.08" text-anchor="end" font-size="11">2</text>
<text x="19.6" y="455.66" text-anchor="end" font-size="11">1</text>
<text x="19.6" y="492.24" text-anchor="end" font-size="11">0</text>
<text x="19.6" y="528.82" text-anchor="end" font-size="11">-1</text>
<text x="25.50" y="553.50" text-anchor="middle" font-size="11">1960</text>
<text x="141.83" y="553.50" text-anchor="middle" font-size="11">1980</text>
<text x="258.17" y="553.50" text-anchor="middle" font-size="11">2000</text>
<text x="374.50" y="553.50" text-anchor="middle" font-size="11">2020</text>
<text x="200.3" y="393.30" text-anchor="middle" font-size="13.5">Nino 3.4 (NO MBC) HadISST</text>
<text x="26.0" y="393.60" font-size="16.8" font-weight="bold">(c)</text>
</g>
<rect x="312.5" y="125.10" width="6.80" height="6.80" fill="#000000"/>
<text x="322.3" y="132.10" font-size="9.85" style="filter:grayscale(1)">Obs</text>
<rect x="312.5" y="134.95" width="6.80" height="6.80" fill="#6cb960"/>
<text x="322.3" y="141.95" font-size="9.85" style="filter:grayscale(1)">NoAssim</text>
<rect x="312.5" y="144.80" width="6.80" height="6.80" fill="#1f6fa3"/>
<text x="322.3" y="151.80" font-size="9.85" style="filter:grayscale(1)">Hindcasts</text>
<rect x="302.3" y="144.80" width="6.80" height="6.80" fill="#dc0a5f"/>
<rect x="312.5" y="216.30" width="6.80" height="6.80" fill="#000000"/>
<text x="322.3" y="223.30" font-size="9.85" style="filter:grayscale(1)">Obs</text>
<rect x="312.5" y="226.15" width="6.80" height="6.80" fill="#6cb960"/>
<text x="322.3" y="233.15" font-size="9.85" style="filter:grayscale(1)">NoAssim</text>
<rect x="312.5" y="236.00" width="6.80" height="6.80" fill="#1f6fa3"/>
<text x="322.3" y="243.00" font-size="9.85" style="filter:grayscale(1)">Hindcasts</text>
<rect x="302.3" y="236.00" width="6.80" height="6.80" fill="#dc0a5f"/>
<rect x="312.5" y="404.90" width="6.80" height="6.80" fill="#000000"/>
<text x="322.3" y="411.90" font-size="9.85" style="filter:grayscale(1)">Obs</text>
<rect x="312.5" y="414.75" width="6.80" height="6.80" fill="#6cb960"/>
<text x="322.3" y="421.75" font-size="9.85" style="filter:grayscale(1)">NoAssim</text>
<rect x="312.5" y="424.60" width="6.80" height="6.80" fill="#1f6fa3"/>
<text x="322.3" y="431.60" font-size="9.85" style="filter:grayscale(1)">Hindcasts</text>
<rect x="302.3" y="424.60" width="6.80" height="6.80" fill="#dc0a5f"/>
</svg></body></html>
